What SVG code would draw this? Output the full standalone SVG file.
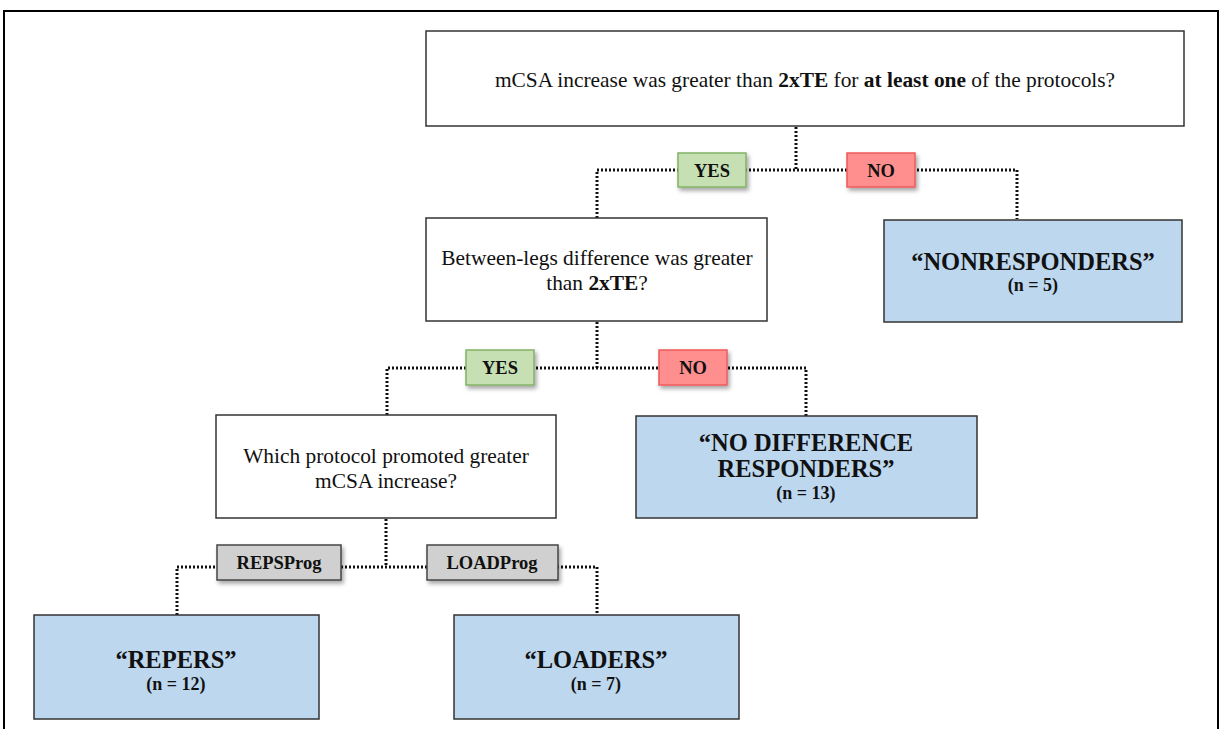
<svg xmlns="http://www.w3.org/2000/svg" width="1219" height="729" viewBox="0 0 1219 729">
<defs>
<filter id="sh" x="-20%" y="-20%" width="150%" height="160%">
<feDropShadow dx="2" dy="3" stdDeviation="2" flood-color="#000" flood-opacity="0.35"/>
</filter>
<style>
.q{fill:#fff;stroke:#333;stroke-width:1.5}
.r{fill:#bdd7ee;stroke:#333;stroke-width:1.5}
.yes{fill:#c6e0b4;stroke:#82b366;stroke-width:1.5}
.no{fill:#ff8f8f;stroke:#f05a5a;stroke-width:1.5}
.gr{fill:#d0d0d0;stroke:#444;stroke-width:1.5}
.t{font-family:"Liberation Serif","Times New Roman",serif;fill:#111;text-anchor:middle}
.qt{font-size:21.4px}
.lb{font-size:18.5px;font-weight:bold}
.big{font-size:24.5px;font-weight:bold}
.n{font-size:18px;font-weight:bold}
.c{fill:none;stroke:#111;stroke-width:3;stroke-dasharray:2 2}
</style>
</defs>
<rect x="0" y="0" width="1219" height="729" fill="#fff"/>
<path d="M4,740 V11 H1218 V740" fill="none" stroke="#000" stroke-width="2"/>
<g id="connectors">
<path class="c" d="M796,127 V170"/>
<path class="c" d="M597,218 V170 H1017 V219"/>
<path class="c" d="M597,322 V368"/>
<path class="c" d="M387,415 V368 H806 V416"/>
<path class="c" d="M386,519 V567"/>
<path class="c" d="M177,615 V567 H597 V615"/>
</g>
<g id="q1">
<rect class="q" x="426" y="31" width="758" height="95"/>
<text class="t qt" x="805" y="87">mCSA increase was greater than <tspan font-weight="bold">2xTE</tspan> for <tspan font-weight="bold">at least one</tspan> of the protocols?</text>
</g>
<g id="yes1"><rect class="yes" x="678" y="153" width="68" height="34" filter="url(#sh)"/><text class="t lb" x="712" y="177">YES</text></g>
<g id="no1"><rect class="no" x="847" y="153" width="68" height="34" filter="url(#sh)"/><text class="t lb" x="881" y="177">NO</text></g>
<g id="q2">
<rect class="q" x="426" y="218" width="341" height="103"/>
<text class="t qt" x="597" y="265">Between-legs difference was greater</text>
<text class="t qt" x="597" y="290">than <tspan font-weight="bold">2xTE</tspan>?</text>
</g>
<g id="nonresp">
<rect class="r" x="884" y="220" width="298" height="102"/>
<text class="t big" x="1033" y="270">“NONRESPONDERS”</text>
<text class="t n" x="1033" y="291">(n = 5)</text>
</g>
<g id="yes2"><rect class="yes" x="466" y="350" width="68" height="35" filter="url(#sh)"/><text class="t lb" x="500" y="374">YES</text></g>
<g id="no2"><rect class="no" x="659" y="350" width="68" height="35" filter="url(#sh)"/><text class="t lb" x="693" y="374">NO</text></g>
<g id="q3">
<rect class="q" x="216" y="415" width="340" height="103"/>
<text class="t qt" x="386" y="463">Which protocol promoted greater</text>
<text class="t qt" x="386" y="488">mCSA increase?</text>
</g>
<g id="nodiff">
<rect class="r" x="636" y="416" width="341" height="102"/>
<text class="t big" x="806" y="451">“NO DIFFERENCE</text>
<text class="t big" x="806" y="477">RESPONDERS”</text>
<text class="t n" x="806" y="499">(n = 13)</text>
</g>
<g id="reps"><rect class="gr" x="217" y="545" width="124" height="35" filter="url(#sh)"/><text class="t lb" x="279" y="569">REPSProg</text></g>
<g id="load"><rect class="gr" x="427" y="545" width="131" height="35" filter="url(#sh)"/><text class="t lb" x="492" y="569">LOADProg</text></g>
<g id="repers">
<rect class="r" x="34" y="615" width="285" height="104"/>
<text class="t big" x="176" y="668">“REPERS”</text>
<text class="t n" x="176" y="690">(n = 12)</text>
</g>
<g id="loaders">
<rect class="r" x="454" y="615" width="285" height="104"/>
<text class="t big" x="596" y="668">“LOADERS”</text>
<text class="t n" x="596" y="690">(n = 7)</text>
</g>
</svg>
